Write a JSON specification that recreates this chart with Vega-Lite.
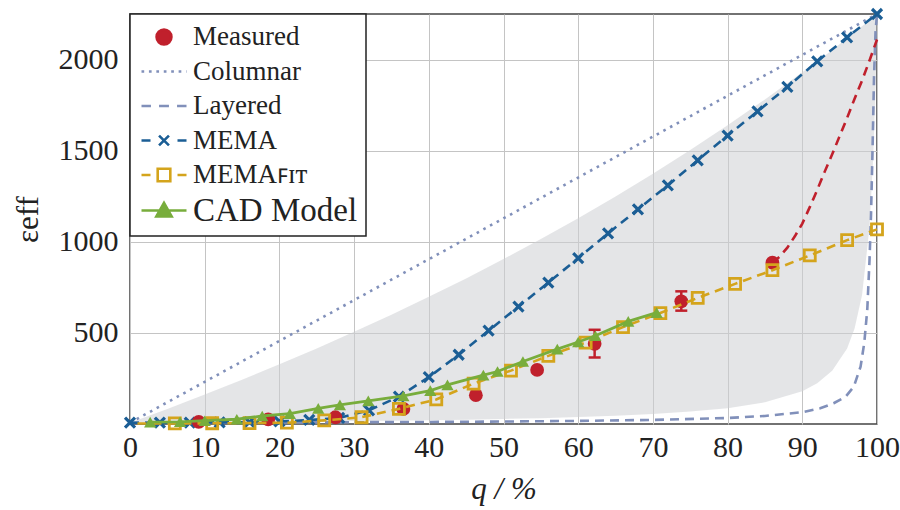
{
  "$schema": "https://vega.github.io/schema/vega-lite/v6.json",
  "width": 747,
  "height": 410,
  "autosize": {"type": "none"},
  "padding": {"left": 130, "top": 14, "right": 23, "bottom": 86},
  "background": "white",
  "config": {
    "view": {"stroke": "#444", "strokeWidth": 1.5},
    "font": "Liberation Serif",
    "axis": {
      "labelFont": "Liberation Serif",
      "titleFont": "Liberation Serif",
      "labelFontSize": 30,
      "titleFontSize": 31,
      "labelColor": "#222",
      "titleColor": "#222",
      "titleFontWeight": "normal",
      "ticks": false,
      "domain": false,
      "grid": true,
      "gridColor": "#c4c4c4",
      "gridWidth": 1
    },
    "legend": {
      "orient": "top-left",
      "offset": 0,
      "padding": 8,
      "strokeColor": "#222",
      "fillColor": "white",
      "labelFont": "Liberation Serif",
      "labelFontSize": 27,
      "labelColor": "#222",
      "labelLimit": 0,
      "symbolSize": 2025,
      "clipHeight": 30,
      "rowPadding": 4.5,
      "symbolOffset": 2,
      "labelOffset": 5,
      "title": null
    }
  },
  "datasets": {
    "band": [
      {"q": 0, "lo": 7, "hi": 7},
      {"q": 5, "lo": 8, "hi": 83},
      {"q": 10, "lo": 9, "hi": 162},
      {"q": 15, "lo": 11, "hi": 243},
      {"q": 20, "lo": 12, "hi": 328},
      {"q": 25, "lo": 14, "hi": 415},
      {"q": 30, "lo": 16, "hi": 506},
      {"q": 35, "lo": 18, "hi": 600},
      {"q": 40, "lo": 21, "hi": 698},
      {"q": 45, "lo": 24, "hi": 799},
      {"q": 50, "lo": 28, "hi": 905},
      {"q": 55, "lo": 32, "hi": 1015},
      {"q": 60, "lo": 38, "hi": 1129},
      {"q": 65, "lo": 45, "hi": 1249},
      {"q": 70, "lo": 55, "hi": 1373},
      {"q": 75, "lo": 68, "hi": 1503},
      {"q": 80, "lo": 87, "hi": 1639},
      {"q": 85, "lo": 119, "hi": 1781},
      {"q": 90, "lo": 180, "hi": 1930},
      {"q": 92, "lo": 223, "hi": 1990},
      {"q": 94, "lo": 292, "hi": 2053},
      {"q": 96, "lo": 415, "hi": 2117},
      {"q": 97, "lo": 524, "hi": 2150},
      {"q": 98, "lo": 708, "hi": 2183},
      {"q": 99, "lo": 1081, "hi": 2217},
      {"q": 99.5, "lo": 1462, "hi": 2233},
      {"q": 99.8, "lo": 1852, "hi": 2243},
      {"q": 100, "lo": 2250, "hi": 2250}
    ],
    "columnar": [
      {"series": "Columnar", "q": 0, "eps": 7},
      {"series": "Columnar", "q": 100, "eps": 2250}
    ],
    "layered": [
      {"series": "Layered", "q": 0, "eps": 7},
      {"series": "Layered", "q": 10, "eps": 7.5},
      {"series": "Layered", "q": 20, "eps": 8.5},
      {"series": "Layered", "q": 30, "eps": 9.7},
      {"series": "Layered", "q": 40, "eps": 11.3},
      {"series": "Layered", "q": 50, "eps": 13.6},
      {"series": "Layered", "q": 60, "eps": 16.9},
      {"series": "Layered", "q": 70, "eps": 22.5},
      {"series": "Layered", "q": 80, "eps": 33},
      {"series": "Layered", "q": 85, "eps": 44},
      {"series": "Layered", "q": 90, "eps": 65},
      {"series": "Layered", "q": 92.4, "eps": 86},
      {"series": "Layered", "q": 94.2, "eps": 114},
      {"series": "Layered", "q": 95.8, "eps": 150},
      {"series": "Layered", "q": 96.9, "eps": 205},
      {"series": "Layered", "q": 97.8, "eps": 315},
      {"series": "Layered", "q": 98.3, "eps": 446},
      {"series": "Layered", "q": 98.7, "eps": 630},
      {"series": "Layered", "q": 99.0, "eps": 900},
      {"series": "Layered", "q": 99.2, "eps": 1150},
      {"series": "Layered", "q": 99.4, "eps": 1500},
      {"series": "Layered", "q": 99.6, "eps": 1900},
      {"series": "Layered", "q": 99.8, "eps": 2150},
      {"series": "Layered", "q": 100, "eps": 2250}
    ],
    "mema": [
      {"series": "MEMA", "q": 0, "eps": 7},
      {"series": "MEMA", "q": 4, "eps": 7},
      {"series": "MEMA", "q": 8, "eps": 8},
      {"series": "MEMA", "q": 12, "eps": 9},
      {"series": "MEMA", "q": 16, "eps": 10},
      {"series": "MEMA", "q": 20, "eps": 14},
      {"series": "MEMA", "q": 24, "eps": 22},
      {"series": "MEMA", "q": 28, "eps": 33},
      {"series": "MEMA", "q": 32, "eps": 75},
      {"series": "MEMA", "q": 36, "eps": 150},
      {"series": "MEMA", "q": 40, "eps": 257},
      {"series": "MEMA", "q": 44, "eps": 380},
      {"series": "MEMA", "q": 48, "eps": 512},
      {"series": "MEMA", "q": 52, "eps": 644},
      {"series": "MEMA", "q": 56, "eps": 776},
      {"series": "MEMA", "q": 60, "eps": 910},
      {"series": "MEMA", "q": 64, "eps": 1046},
      {"series": "MEMA", "q": 68, "eps": 1178},
      {"series": "MEMA", "q": 72, "eps": 1310},
      {"series": "MEMA", "q": 76, "eps": 1447},
      {"series": "MEMA", "q": 80, "eps": 1583},
      {"series": "MEMA", "q": 84, "eps": 1715},
      {"series": "MEMA", "q": 88, "eps": 1850},
      {"series": "MEMA", "q": 92, "eps": 1990},
      {"series": "MEMA", "q": 96, "eps": 2122},
      {"series": "MEMA", "q": 100, "eps": 2250}
    ],
    "memafit": [
      {"series": "MEMAꜰɪᴛ", "q": 1, "eps": 3},
      {"series": "MEMAꜰɪᴛ", "q": 6, "eps": 3},
      {"series": "MEMAꜰɪᴛ", "q": 11, "eps": 4},
      {"series": "MEMAꜰɪᴛ", "q": 16, "eps": 5},
      {"series": "MEMAꜰɪᴛ", "q": 21, "eps": 7},
      {"series": "MEMAꜰɪᴛ", "q": 26, "eps": 20},
      {"series": "MEMAꜰɪᴛ", "q": 31, "eps": 37},
      {"series": "MEMAꜰɪᴛ", "q": 36, "eps": 83},
      {"series": "MEMAꜰɪᴛ", "q": 41, "eps": 135},
      {"series": "MEMAꜰɪᴛ", "q": 46, "eps": 222},
      {"series": "MEMAꜰɪᴛ", "q": 51, "eps": 293},
      {"series": "MEMAꜰɪᴛ", "q": 56, "eps": 374},
      {"series": "MEMAꜰɪᴛ", "q": 61, "eps": 447},
      {"series": "MEMAꜰɪᴛ", "q": 66, "eps": 532},
      {"series": "MEMAꜰɪᴛ", "q": 71, "eps": 609},
      {"series": "MEMAꜰɪᴛ", "q": 76, "eps": 692},
      {"series": "MEMAꜰɪᴛ", "q": 81, "eps": 769},
      {"series": "MEMAꜰɪᴛ", "q": 86, "eps": 844},
      {"series": "MEMAꜰɪᴛ", "q": 91, "eps": 925},
      {"series": "MEMAꜰɪᴛ", "q": 96, "eps": 1009},
      {"series": "MEMAꜰɪᴛ", "q": 100, "eps": 1068}
    ],
    "cad": [
      {"series": "CAD Model", "q": 2.7, "eps": 10},
      {"series": "CAD Model", "q": 6.7, "eps": 12},
      {"series": "CAD Model", "q": 10, "eps": 18},
      {"series": "CAD Model", "q": 14.3, "eps": 26},
      {"series": "CAD Model", "q": 17.7, "eps": 44},
      {"series": "CAD Model", "q": 21.4, "eps": 57},
      {"series": "CAD Model", "q": 25.2, "eps": 86},
      {"series": "CAD Model", "q": 28.1, "eps": 105},
      {"series": "CAD Model", "q": 31.9, "eps": 127},
      {"series": "CAD Model", "q": 36.6, "eps": 154},
      {"series": "CAD Model", "q": 40.2, "eps": 183},
      {"series": "CAD Model", "q": 42.5, "eps": 215},
      {"series": "CAD Model", "q": 47.3, "eps": 268},
      {"series": "CAD Model", "q": 49.2, "eps": 288},
      {"series": "CAD Model", "q": 52.6, "eps": 343},
      {"series": "CAD Model", "q": 57.2, "eps": 411},
      {"series": "CAD Model", "q": 60, "eps": 450},
      {"series": "CAD Model", "q": 62.3, "eps": 484},
      {"series": "CAD Model", "q": 66.7, "eps": 563},
      {"series": "CAD Model", "q": 70.5, "eps": 611}
    ],
    "measured": [
      {"series": "Measured", "q": 9.2, "eps": 12},
      {"series": "Measured", "q": 18.5, "eps": 25},
      {"series": "Measured", "q": 27.5, "eps": 37},
      {"series": "Measured", "q": 36.6, "eps": 83},
      {"series": "Measured", "q": 46.3, "eps": 158},
      {"series": "Measured", "q": 54.5, "eps": 297},
      {"series": "Measured", "q": 62.2, "eps": 440, "lo": 365, "hi": 517},
      {"series": "Measured", "q": 73.8, "eps": 673, "lo": 622, "hi": 728},
      {"series": "Measured", "q": 86, "eps": 885}
    ],
    "extrap": [
      {"series": "Measured", "q": 86, "eps": 885},
      {"series": "Measured", "q": 87, "eps": 920},
      {"series": "Measured", "q": 88, "eps": 968},
      {"series": "Measured", "q": 89, "eps": 1030},
      {"series": "Measured", "q": 90, "eps": 1100},
      {"series": "Measured", "q": 91, "eps": 1190},
      {"series": "Measured", "q": 92, "eps": 1285},
      {"series": "Measured", "q": 93, "eps": 1385},
      {"series": "Measured", "q": 94, "eps": 1480},
      {"series": "Measured", "q": 95, "eps": 1580},
      {"series": "Measured", "q": 96, "eps": 1680},
      {"series": "Measured", "q": 97, "eps": 1785},
      {"series": "Measured", "q": 98, "eps": 1885},
      {"series": "Measured", "q": 99, "eps": 1995},
      {"series": "Measured", "q": 100, "eps": 2110}
    ]
  },
  "encoding": {
    "x": {
      "field": "q", "type": "quantitative",
      "scale": {"domain": [0, 100], "nice": false, "zero": false},
      "axis": {"values": [0, 10, 20, 30, 40, 50, 60, 70, 80, 90, 100], "format": "d", "title": "q / %", "titleFontStyle": "italic", "labelPadding": 8, "titlePadding": 12, "labelFlush": false}
    },
    "y": {
      "field": "eps", "type": "quantitative",
      "scale": {"domain": [0, 2250], "nice": false},
      "axis": {"values": [500, 1000, 1500, 2000], "format": "d", "title": "εeff", "labelPadding": 12, "titlePadding": 14}
    }
  },
  "layer": [
    {
      "data": {"name": "band"},
      "mark": {"type": "area", "color": "#cdd0d4", "opacity": 0.55},
      "encoding": {
        "y": {"field": "lo", "type": "quantitative"},
        "y2": {"field": "hi"}
      }
    },
    {
      "data": {"name": "columnar"},
      "mark": {"type": "line", "strokeWidth": 2.6, "strokeDash": [2.6, 5]},
      "encoding": {
        "color": {
          "field": "series", "type": "nominal",
          "scale": {
            "domain": ["Measured", "Columnar", "Layered", "MEMA", "MEMAꜰɪᴛ", "CAD Model"],
            "range": ["#c0202c", "#8190ba", "#8190ba", "#1b5e95", "#d4a41c", "#78ad3c"]
          },
          "legend": {
            "encode": {
              "legend": {"update": {"strokeWidth": {"value": 1.5}}},
              "symbols": {
                "update": {
                  "size": {"value": 2025},
                  "strokeWidth": {"value": 2.6},
                  "opacity": {"value": 1},
                  "strokeDash": {"value": []},
                  "shape": {"signal": "datum.value == 'Measured' ? 'M-0.33,0A0.33,0.33 0 1,0 0.33,0A0.33,0.33 0 1,0 -0.33,0Z' : datum.value == 'Columnar' ? 'M-1,0H-0.88M-0.67,0H-0.55M-0.34,0H-0.22M-0.01,0H0.11M0.32,0H0.44M0.65,0H0.77M0.98,0H1.0' : datum.value == 'Layered' ? 'M-1,0H-0.58M-0.22,0H0.22M0.58,0H1' : datum.value == 'MEMA' ? 'M-1,0H-0.6M-0.22,-0.22L0.22,0.22M-0.22,0.22L0.22,-0.22M0.6,0H1' : datum.value == 'CAD Model' ? 'M-1,0H1M-0.34,0.26L0,-0.34L0.34,0.26Z' : 'M-1,0H-0.6M-0.28,-0.28H0.28V0.28H-0.28ZM0.6,0H1'"},
                  "stroke": {"signal": "datum.value == 'Measured' ? '#c0202c' : datum.value == 'Columnar' || datum.value == 'Layered' ? '#8190ba' : datum.value == 'MEMA' ? '#1b5e95' : datum.value == 'CAD Model' ? '#78ad3c' : '#d4a41c'"},
                  "strokeOpacity": {"value": 1},
                  "fill": {"signal": "datum.value == 'Measured' ? '#c0202c' : datum.value == 'CAD Model' ? '#78ad3c' : 'white'"},
                  "fillOpacity": {"signal": "datum.value == 'Measured' || datum.value == 'CAD Model' ? 1 : 0"}
                }
              },
              "labels": {
                "update": {"fontSize": {"signal": "datum.value == 'CAD Model' ? 33 : 27"}}
              }
            }
          }
        }
      }
    },
    {
      "data": {"name": "layered"},
      "mark": {"type": "line", "strokeWidth": 2.6, "strokeDash": [9, 6]},
      "encoding": {"color": {"field": "series", "type": "nominal"}}
    },
    {
      "data": {"name": "mema"},
      "mark": {"type": "line", "strokeWidth": 2.6, "strokeDash": [9, 6]},
      "encoding": {"color": {"field": "series", "type": "nominal"}}
    },
    {
      "data": {"name": "mema"},
      "mark": {"type": "point", "shape": "M-1,-1L1,1M-1,1L1,-1", "filled": false, "size": 100, "strokeWidth": 3.2, "opacity": 1},
      "encoding": {"color": {"field": "series", "type": "nominal"}}
    },
    {
      "data": {"name": "measured"},
      "transform": [{"filter": "isValid(datum.lo)"}],
      "mark": {"type": "rule", "strokeWidth": 2.5},
      "encoding": {
        "y": {"field": "lo", "type": "quantitative"},
        "y2": {"field": "hi"},
        "color": {"field": "series", "type": "nominal"}
      }
    },
    {
      "data": {"name": "measured"},
      "transform": [{"filter": "isValid(datum.lo)"}],
      "mark": {"type": "tick", "orient": "horizontal", "size": 12, "thickness": 2.5, "opacity": 1},
      "encoding": {
        "y": {"field": "lo", "type": "quantitative"},
        "color": {"field": "series", "type": "nominal"}
      }
    },
    {
      "data": {"name": "measured"},
      "transform": [{"filter": "isValid(datum.hi)"}],
      "mark": {"type": "tick", "orient": "horizontal", "size": 12, "thickness": 2.5, "opacity": 1},
      "encoding": {
        "y": {"field": "hi", "type": "quantitative"},
        "color": {"field": "series", "type": "nominal"}
      }
    },
    {
      "data": {"name": "measured"},
      "mark": {"type": "point", "shape": "circle", "filled": true, "size": 190, "opacity": 1},
      "encoding": {"color": {"field": "series", "type": "nominal"}}
    },
    {
      "data": {"name": "extrap"},
      "mark": {"type": "line", "strokeWidth": 2.6, "strokeDash": [9, 6]},
      "encoding": {"color": {"field": "series", "type": "nominal"}}
    },
    {
      "data": {"name": "memafit"},
      "mark": {"type": "line", "strokeWidth": 2.6, "strokeDash": [9, 6]},
      "encoding": {"color": {"field": "series", "type": "nominal"}}
    },
    {
      "data": {"name": "memafit"},
      "transform": [{"filter": "datum.q > 2"}],
      "mark": {"type": "point", "shape": "square", "filled": false, "size": 121, "strokeWidth": 2.8, "opacity": 1},
      "encoding": {"color": {"field": "series", "type": "nominal"}}
    },
    {
      "data": {"name": "cad"},
      "mark": {"type": "line", "strokeWidth": 2.8},
      "encoding": {"color": {"field": "series", "type": "nominal"}}
    },
    {
      "data": {"name": "cad"},
      "mark": {"type": "point", "shape": "triangle-up", "filled": true, "size": 150, "opacity": 1},
      "encoding": {"color": {"field": "series", "type": "nominal"}}
    }
  ]
}
